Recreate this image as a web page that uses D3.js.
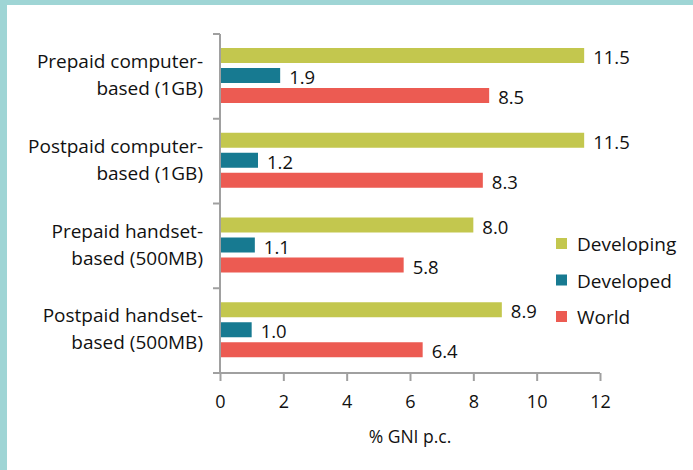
<!DOCTYPE html>
<html>
<head>
<meta charset="utf-8">
<script src="https://cdn.jsdelivr.net/npm/d3@7"></script>
<style>
  body { margin: 0; background: #fff; }
  svg { display: block; font-family: "Open Sans", sans-serif; }
</style>
</head>
<body>
<svg id="chart" width="693" height="470"></svg>
<script>
// categories, top to bottom
var categories = [
  ["Prepaid computer-", "based (1GB)"],
  ["Postpaid computer-", "based (1GB)"],
  ["Prepaid handset-", "based (500MB)"],
  ["Postpaid handset-", "based (500MB)"]
];
var seriesNames = ["Developing", "Developed", "World"];
var developing = [11.5, 11.5, 8.0, 8.9];
var developed = [1.9, 1.2, 1.1, 1.0];
var world = [8.5, 8.3, 5.8, 6.4];
var xTicks = [0, 2, 4, 6, 8, 10, 12];
var colors = ["#c3c74e", "#177a91", "#ec5b52"];

var svg = d3.select("#chart");

// teal frame (top and left)
svg.append("rect").attr("x", 0).attr("y", 0).attr("width", 693).attr("height", 5).attr("fill", "#9fd5d5");
svg.append("rect").attr("x", 0).attr("y", 0).attr("width", 7).attr("height", 470).attr("fill", "#9fd5d5");

var x = d3.scaleLinear().domain([0, 12]).range([220, 600]);
var y = d3.scaleBand().domain(d3.range(categories.length)).range([34, 373]);

var series = [developing, developed, world];

var g = svg.append("g");

// bars
series.forEach(function (vals, si) {
  g.selectAll(".bar" + si)
    .data(vals)
    .enter().append("rect")
    .attr("x", x(0) + 1)
    .attr("y", function (d, i) { return y(i) + 14 + si * 20; })
    .attr("width", function (d) { return x(d) - x(0) - 1; })
    .attr("height", 15)
    .attr("fill", colors[si]);

  g.selectAll(".lab" + si)
    .data(vals)
    .enter().append("text")
    .attr("x", function (d) { return x(d) + 9; })
    .attr("y", function (d, i) { return y(i) + 14 + si * 20 + 9; })
    .attr("dy", "0.38em")
    .attr("font-size", "18.5px")
    .attr("fill", "#111")
    .text(function (d) { return d.toFixed(1); });
});

// y axis line with outward category ticks
var axisColor = "#a0a0a0";
g.append("line").attr("x1", 220).attr("x2", 220).attr("y1", 34).attr("y2", 373)
  .attr("stroke", axisColor).attr("stroke-width", 2);
d3.range(categories.length + 1).forEach(function (i) {
  var yy = 34 + i * y.step();
  g.append("line").attr("x1", 213).attr("x2", 220).attr("y1", yy).attr("y2", yy)
    .attr("stroke", axisColor).attr("stroke-width", 2);
});

// x axis
var xAxis = d3.axisBottom(x).tickValues(xTicks).tickSize(8).tickSizeOuter(0).tickPadding(14);
var xg = g.append("g").attr("transform", "translate(0,373)").call(xAxis);
xg.select(".domain").attr("stroke", axisColor).attr("stroke-width", 2).attr("d", "M213,0H600");
xg.selectAll(".tick line").attr("stroke", axisColor).attr("stroke-width", 2);
xg.selectAll(".tick text").attr("font-size", "18px").attr("fill", "#111")
  .attr("font-family", "'Open Sans', sans-serif");

g.append("text").attr("x", 410).attr("y", 443).attr("text-anchor", "middle")
  .attr("font-size", "17.5px").attr("fill", "#111").text("% GNI p.c.");

// category labels
categories.forEach(function (lines, i) {
  var t = g.append("text").attr("text-anchor", "end").attr("font-size", "19px").attr("fill", "#111");
  lines.forEach(function (l, k) {
    t.append("tspan").attr("x", 203).attr("y", y(i) + 34 + k * 27).text(l);
  });
});

// legend
var leg = g.selectAll(".legend").data(seriesNames).enter().append("g")
  .attr("transform", function (d, i) { return "translate(556," + (238 + i * 36.5) + ")"; });
leg.append("rect").attr("width", 11).attr("height", 11).attr("y", 0)
  .attr("fill", function (d, i) { return colors[i]; });
leg.append("text").attr("x", 21).attr("y", 6).attr("dy", "0.38em")
  .attr("font-size", "19px").attr("fill", "#111").text(function (d) { return d; });
</script>
</body>
</html>
